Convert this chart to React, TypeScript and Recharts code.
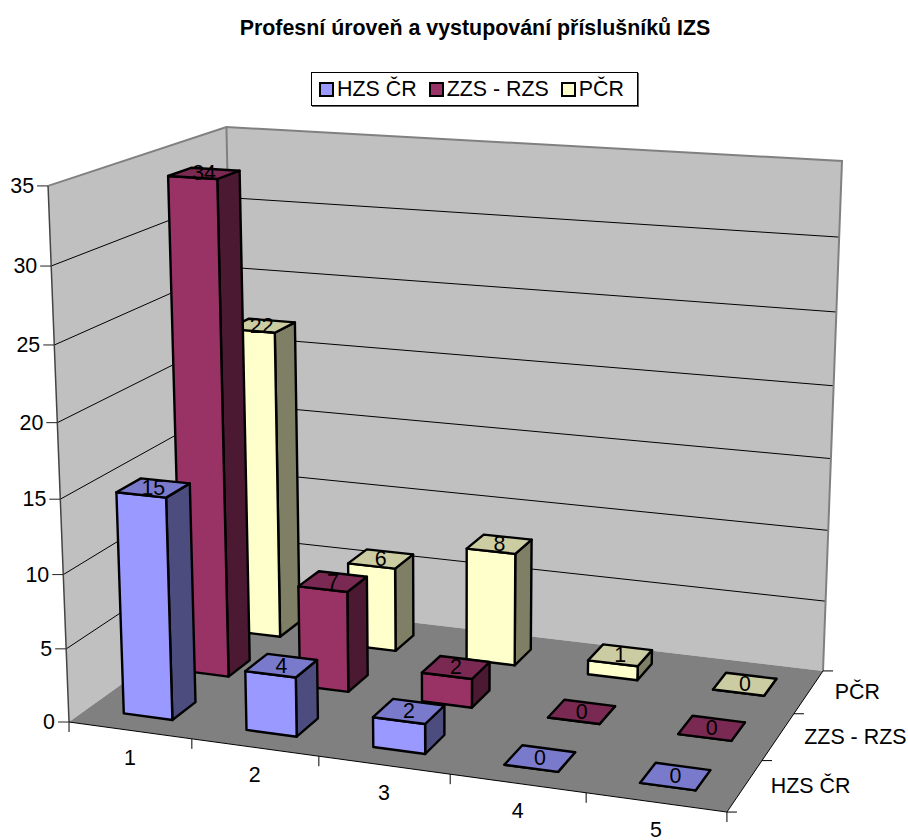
import React from 'react';
import { BarChart, Bar, XAxis, YAxis, Legend } from 'recharts';

const categories = ['1', '2', '3', '4', '5'];
const seriesNames = ['HZS ČR', 'ZZS - RZS', 'PČR'];
const hzsValues = [15, 4, 2, 0, 0];
const zzsValues = [34, 7, 2, 0, 0];
const pcrValues = [22, 6, 8, 1, 0];
const valueTicks = [0, 5, 10, 15, 20, 25, 30, 35];

const data = categories.map((name, i) => ({
  name,
  hzs: hzsValues[i],
  zzs: zzsValues[i],
  pcr: pcrValues[i],
}));

const FONT = '"Liberation Sans", Arial, sans-serif';
const FONT_SIZE = 21.4;
const MAX_VALUE = 35;

// flat plot area handed to recharts; the scales' output is then projected
const PLOT = { left: 100, top: 100, width: 500, height: 350 };
const BAR_SIZE = 40; // 40% of a 100px band, gap width 150%
const DEPTH_FILL = 0.4;

const palette = [
  { key: 'hzs', front: '#9999FF', top: '#7A7ACC', side: '#4C4C7F' },
  { key: 'zzs', front: '#993366', top: '#7A2952', side: '#4C1933' },
  { key: 'pcr', front: '#FFFFCC', top: '#CCCCA3', side: '#7F7F66' },
];

// unit cube corners -> where the corners of the box sit on the page
const calibration: [number, number, number, number, number][] = [
  [0, 0, 0, 69, 722],
  [0, 1, 0, 48, 186],
  [0, 1, 1, 226.5, 127],
  [1, 1, 1, 842, 161],
  [1, 0, 1, 823, 671],
  [1, 0, 0, 727, 812],
];

function solveProjection(): number[] {
  const rows: number[][] = [];
  calibration.forEach(([x, y, z, px, py]) => {
    rows.push([x, y, z, 1, 0, 0, 0, 0, -px * x, -px * y, -px * z, px]);
    rows.push([0, 0, 0, 0, x, y, z, 1, -py * x, -py * y, -py * z, py]);
  });
  const n = 11;
  const a = Array.from({ length: n }, (_, i) =>
    Array.from({ length: n + 1 }, (_, j) =>
      rows.reduce((sum, r) => sum + r[i] * r[j], 0)
    )
  );
  for (let c = 0; c < n; c++) {
    let pivot = c;
    for (let r = c + 1; r < n; r++) {
      if (Math.abs(a[r][c]) > Math.abs(a[pivot][c])) pivot = r;
    }
    [a[c], a[pivot]] = [a[pivot], a[c]];
    for (let r = 0; r < n; r++) {
      if (r === c) continue;
      const f = a[r][c] / a[c][c];
      for (let k = c; k <= n; k++) a[r][k] -= f * a[c][k];
    }
  }
  return a.map((row, i) => row[n] / row[i]);
}

const m = solveProjection();

function project(u: number, v: number, z: number): [number, number] {
  const w = m[8] * u + m[9] * v + m[10] * z + 1;
  return [
    (m[0] * u + m[1] * v + m[2] * z + m[3]) / w,
    (m[4] * u + m[5] * v + m[6] * z + m[7]) / w,
  ];
}

const toPoints = (pts: [number, number][]) =>
  pts.map(p => `${p[0].toFixed(1)},${p[1].toFixed(1)}`).join(' ');

const toU = (x: number) => (x - PLOT.left) / PLOT.width;
const toV = (y: number) => 1 - (y - PLOT.top) / PLOT.height;

function makeBox(seriesIndex: number) {
  const colors = palette[seriesIndex];
  const z0 = (seriesIndex + (1 - DEPTH_FILL) / 2) / 3;
  const z1 = (seriesIndex + (1 + DEPTH_FILL) / 2) / 3;

  return (props: any) => {
    const { x, y, width, height, value } = props;
    const u0 = toU(x);
    const u1 = toU(x + width);
    const top = toV(y);
    const bottom = toV(y + height);
    const labelPos = project((u0 + u1) / 2, top, (z0 + z1) / 2);
    const faceStyle = { stroke: '#000', strokeWidth: 2.4, strokeLinejoin: 'round' as const };
    return (
      <g>
        <polygon
          points={toPoints([project(u1, bottom, z0), project(u1, bottom, z1), project(u1, top, z1), project(u1, top, z0)])}
          fill={colors.side}
          {...faceStyle}
        />
        <polygon
          points={toPoints([project(u0, bottom, z0), project(u1, bottom, z0), project(u1, top, z0), project(u0, top, z0)])}
          fill={colors.front}
          {...faceStyle}
        />
        <polygon
          points={toPoints([project(u0, top, z0), project(u1, top, z0), project(u1, top, z1), project(u0, top, z1)])}
          fill={colors.top}
          {...faceStyle}
        />
        <text
          x={labelPos[0]}
          y={labelPos[1]}
          textAnchor="middle"
          dominantBaseline="central"
          fontSize={FONT_SIZE}
          fontFamily={FONT}
          fill="#000"
        >
          {value}
        </text>
      </g>
    );
  };
}

const ValueTick = (props: any) => {
  const [px, py] = project(0, toV(props.y), 0);
  return (
    <g>
      <line x1={px - 11} y1={py} x2={px} y2={py} stroke="#222" strokeWidth={1} />
      <text x={px - 14} y={py} textAnchor="end" dominantBaseline="central" fontSize={FONT_SIZE} fontFamily={FONT} fill="#000">
        {props.payload.value}
      </text>
    </g>
  );
};

const CategoryTick = (props: any) => {
  const [px, py] = project(toU(props.x), 0, 0);
  return (
    <text x={px} y={py + 28} textAnchor="middle" dominantBaseline="central" fontSize={FONT_SIZE} fontFamily={FONT} fill="#000">
      {props.payload.value}
    </text>
  );
};

// walls, floor, gridlines and the depth axis
const Frame = () => {
  const gridLines = valueTicks.filter(t => t > 0 && t < MAX_VALUE);
  const edge = (a: [number, number], b: [number, number], stroke: string, strokeWidth: number) => (
    <line x1={a[0]} y1={a[1]} x2={b[0]} y2={b[1]} stroke={stroke} strokeWidth={strokeWidth} />
  );
  const frontRight = project(1, 0, 0);
  return (
    <g>
      <text x={475} y={28} textAnchor="middle" dominantBaseline="central" fontSize={FONT_SIZE} fontWeight="bold" fontFamily={FONT} fill="#000">
        Profesní úroveň a vystupování příslušníků IZS
      </text>
      <polygon points={toPoints([project(0, 0, 0), project(0, 1, 0), project(0, 1, 1), project(0, 0, 1)])} fill="#C0C0C0" />
      <polygon points={toPoints([project(0, 0, 1), project(0, 1, 1), project(1, 1, 1), project(1, 0, 1)])} fill="#C0C0C0" />
      <polygon points={toPoints([project(0, 0, 0), project(1, 0, 0), project(1, 0, 1), project(0, 0, 1)])} fill="#808080" />
      {gridLines.map(t => {
        const v = t / MAX_VALUE;
        return (
          <polyline
            key={t}
            points={toPoints([project(0, v, 0), project(0, v, 1), project(1, v, 1)])}
            fill="none"
            stroke="#000"
            strokeWidth={1}
          />
        );
      })}
      <polyline points={toPoints([project(0, 1, 0), project(0, 1, 1), project(1, 1, 1), project(1, 0, 1)])} fill="none" stroke="#808080" strokeWidth={2} />
      {edge(project(0, 1, 1), project(0, 0, 1), '#808080', 2)}
      {edge(project(0, 0, 0), project(0, 1, 0), '#444', 1.5)}
      {edge(project(0, 0, 0), project(1, 0, 0), '#000', 1)}
      {edge(frontRight, project(1, 0, 1), '#000', 1)}
      {categories.concat('').map((_, i) => {
        const p = project(i / categories.length, 0, 0);
        return <line key={i} x1={p[0]} y1={p[1]} x2={p[0]} y2={p[1] + 10} stroke="#000" strokeWidth={1} />;
      })}
      {seriesNames.concat('').map((_, j) => {
        const p = project(1, 0, j / seriesNames.length);
        return <line key={j} x1={p[0]} y1={p[1]} x2={p[0] + 10} y2={p[1]} stroke="#000" strokeWidth={1} />;
      })}
      {seriesNames.map((name, j) => {
        const p = project(1, 0, (j + 0.5) / seriesNames.length);
        return (
          <text key={name} x={p[0] + 26} y={p[1]} dominantBaseline="central" fontSize={FONT_SIZE} fontFamily={FONT} fill="#000">
            {name}
          </text>
        );
      })}
    </g>
  );
};

const LegendBox = () => (
  <div
    style={{
      boxSizing: 'border-box',
      width: 327,
      height: 34,
      border: '1px solid #000',
      background: '#fff',
      boxShadow: '1px 1px 0 #666',
      display: 'flex',
      alignItems: 'center',
      paddingLeft: 7,
      fontFamily: FONT,
      fontSize: FONT_SIZE,
      color: '#000',
      whiteSpace: 'nowrap',
    }}
  >
    {seriesNames.map((name, j) => (
      <span key={name} style={{ display: 'flex', alignItems: 'center', marginRight: 12 }}>
        <span
          style={{
            boxSizing: 'border-box',
            width: 15,
            height: 15,
            border: '2.5px solid #000',
            background: palette[j].front,
            marginRight: 3,
          }}
        />
        {name}
      </span>
    ))}
  </div>
);

export default function App() {
  return (
    <div style={{ position: 'absolute', left: 0, top: 0, width: 908, height: 840 }}>
      <BarChart
        width={908}
        height={840}
        data={data}
        barSize={BAR_SIZE}
        barGap={-BAR_SIZE}
        margin={{ top: PLOT.top, left: PLOT.left - 60, right: 908 - PLOT.left - PLOT.width, bottom: 840 - PLOT.top - PLOT.height - 30 }}
      >
        <Frame />
        <XAxis dataKey="name" height={30} axisLine={false} tickLine={false} interval={0} tick={CategoryTick} />
        <YAxis width={60} domain={[0, MAX_VALUE]} ticks={valueTicks} interval={0} axisLine={false} tickLine={false} tick={ValueTick} />
        <Legend
          layout="horizontal"
          verticalAlign="middle"
          align="center"
          content={LegendBox}
          wrapperStyle={{ left: 311, top: 72, width: 327, height: 34, bottom: 'auto', right: 'auto' }}
        />
        {/* back row first so nearer bars paint over it */}
        <Bar dataKey="pcr" isAnimationActive={false} shape={makeBox(2)} />
        <Bar dataKey="zzs" isAnimationActive={false} shape={makeBox(1)} />
        <Bar dataKey="hzs" isAnimationActive={false} shape={makeBox(0)} />
      </BarChart>
    </div>
  );
}
